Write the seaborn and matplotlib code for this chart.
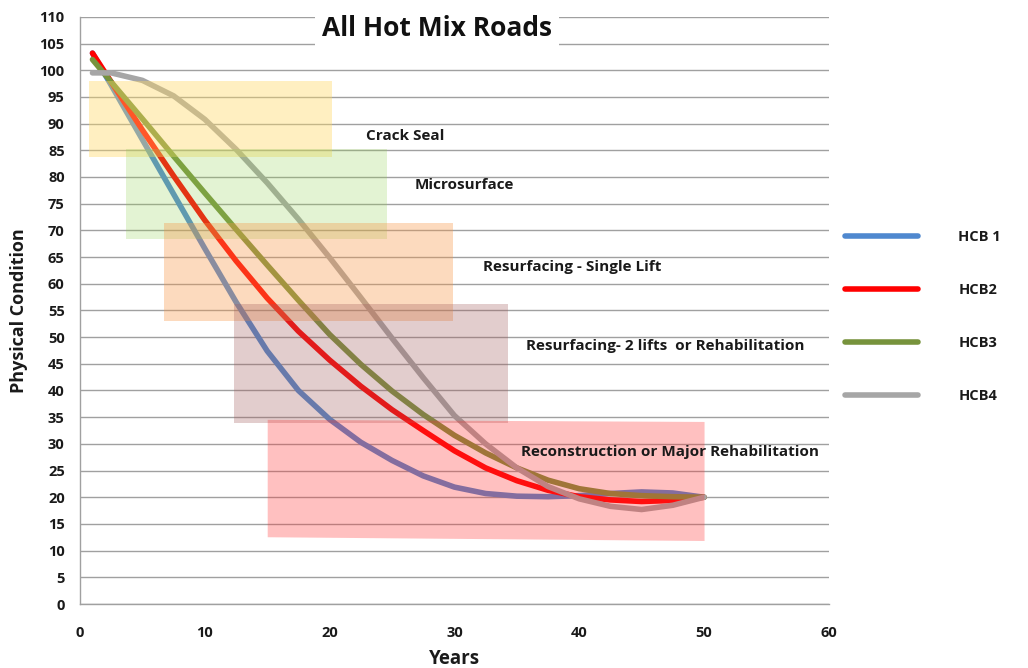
import matplotlib
matplotlib.use("Agg")
import matplotlib.pyplot as plt
import pandas as pd
import seaborn as sns

# Condition curves (years in service vs. physical condition)
years = [1, 2.5, 5, 7.5, 10, 12.5, 15, 17.5, 20, 22.5, 25, 27.5, 30,
         32.5, 35, 37.5, 40, 42.5, 45, 47.5, 50]
hcb1 = [103.2, 97.2, 87.0, 76.8, 66.6, 56.6, 47.4, 40.0, 34.6, 30.3, 26.9,
        24.0, 21.9, 20.7, 20.2, 20.1, 20.3, 20.7, 21.0, 20.8, 20.0]
hcb2 = [103.2, 97.8, 88.8, 80.2, 71.9, 64.3, 57.3, 51.1, 45.7, 40.8, 36.4,
        32.5, 28.7, 25.5, 23.1, 21.3, 20.1, 19.5, 19.2, 19.4, 20.0]
hcb3 = [102.0, 97.8, 90.9, 83.9, 77.0, 70.2, 63.5, 56.9, 50.5, 44.9, 39.9,
        35.5, 31.6, 28.3, 25.5, 23.2, 21.6, 20.7, 20.3, 20.1, 20.0]
hcb4 = [99.5, 99.5, 98.1, 95.2, 90.8, 85.2, 78.9, 72.1, 64.9, 57.4, 49.8,
        42.4, 35.3, 30.0, 25.5, 22.0, 19.7, 18.3, 17.7, 18.5, 20.0]
series_names = ["HCB 1", "HCB2", "HCB3", "HCB4"]
series_colors = ["#4f88cf", "#ff0000", "#77933c", "#a6a6a6"]

# Treatment windows: year range and condition range
treatments = ["Crack Seal", "Microsurface", "Resurfacing - Single Lift",
              "Resurfacing- 2 lifts  or Rehabilitation",
              "Reconstruction or Major Rehabilitation"]
treat_year_from = [0.75, 3.7, 6.7, 12.3, 15.0]
treat_year_to = [20.2, 24.6, 29.9, 34.3, 50.0]
treat_low_from = [83.7, 68.3, 53.1, 33.9, 12.6]
treat_low_to = [83.7, 68.3, 53.1, 33.9, 11.9]
treat_high_from = [98.0, 85.3, 71.3, 56.2, 34.6]
treat_high_to = [98.0, 85.3, 71.3, 56.2, 34.2]
treat_colors = ["#ffd966", "#92d050", "#f79646", "#a05a5a", "#ff3030"]
treat_alpha = [0.40, 0.25, 0.35, 0.30, 0.30]
label_year = [22.9, 26.8, 32.3, 35.7, 35.3]
label_cond = [87.6, 78.5, 63.1, 48.3, 28.5]

x_ticks = [0, 10, 20, 30, 40, 50, 60]
y_ticks = list(range(0, 111, 5))

sns.set_theme(style="whitegrid")
plt.rcParams["font.family"] = ["Open Sans", "DejaVu Sans"]
plt.rcParams["font.weight"] = "bold"

df = pd.DataFrame({
    "Years": years * 4,
    "Condition": hcb1 + hcb2 + hcb3 + hcb4,
    "Series": sum([[n] * len(years) for n in series_names], []),
})

fig = plt.figure(figsize=(10.28, 6.68), dpi=100)
ax = fig.add_axes([0.0778, 0.0958, 0.7285, 0.879])

sns.lineplot(data=df, x="Years", y="Condition", hue="Series",
             hue_order=series_names, palette=series_colors,
             linewidth=4, ax=ax, zorder=2, sort=False)

for i, name in enumerate(treatments):
    ax.fill_between([treat_year_from[i], treat_year_to[i]],
                    [treat_low_from[i], treat_low_to[i]],
                    [treat_high_from[i], treat_high_to[i]],
                    color=treat_colors[i], alpha=treat_alpha[i],
                    linewidth=0, zorder=3)
    ax.text(label_year[i], label_cond[i], name, fontsize=11,
            fontweight="bold", color="#1a1a1a", va="center", ha="left",
            zorder=5)

ax.set_xlim(0, 60)
ax.set_ylim(0, 110)
ax.set_xticks(x_ticks)
ax.set_yticks(y_ticks)
ax.grid(False)
ax.yaxis.grid(True, color="#a0a0a0", linewidth=1.0)
ax.set_axisbelow(True)
for side in ["top", "right"]:
    ax.spines[side].set_visible(False)
for side in ["left", "bottom"]:
    ax.spines[side].set_color("#a0a0a0")
    ax.spines[side].set_linewidth(1.0)
ax.tick_params(axis="both", which="major", length=6, width=1,
               color="#a0a0a0", labelsize=10.5, labelcolor="#1a1a1a",
               direction="out", pad=5)
ax.tick_params(axis="x", pad=10)
for lab in ax.get_xticklabels() + ax.get_yticklabels():
    lab.set_fontweight("bold")

ax.set_xlabel("Years", fontsize=13.5, fontweight="bold", color="#1a1a1a",
              labelpad=6)
ax.set_ylabel("Physical Condition", fontsize=13, fontweight="bold",
              color="#1a1a1a", labelpad=8)

ax.text(28.6, 107.9, "All Hot Mix Roads", fontsize=19, fontweight="bold",
        color="#111111", ha="center", va="center", zorder=6, clip_on=False,
        bbox=dict(boxstyle="square,pad=0.25", facecolor="white",
                  edgecolor="none"))

sns.move_legend(ax, "center left", bbox_to_anchor=(1.021, 0.49),
                frameon=False, title=None, fontsize=10.5,
                handlelength=5.0, handletextpad=2.8, labelspacing=2.68,
                borderaxespad=0, borderpad=0)
leg = ax.get_legend()
for t in leg.get_texts():
    t.set_fontweight("bold")
    t.set_color("#1a1a1a")

fig.savefig("out.png", dpi=100, facecolor="white")
